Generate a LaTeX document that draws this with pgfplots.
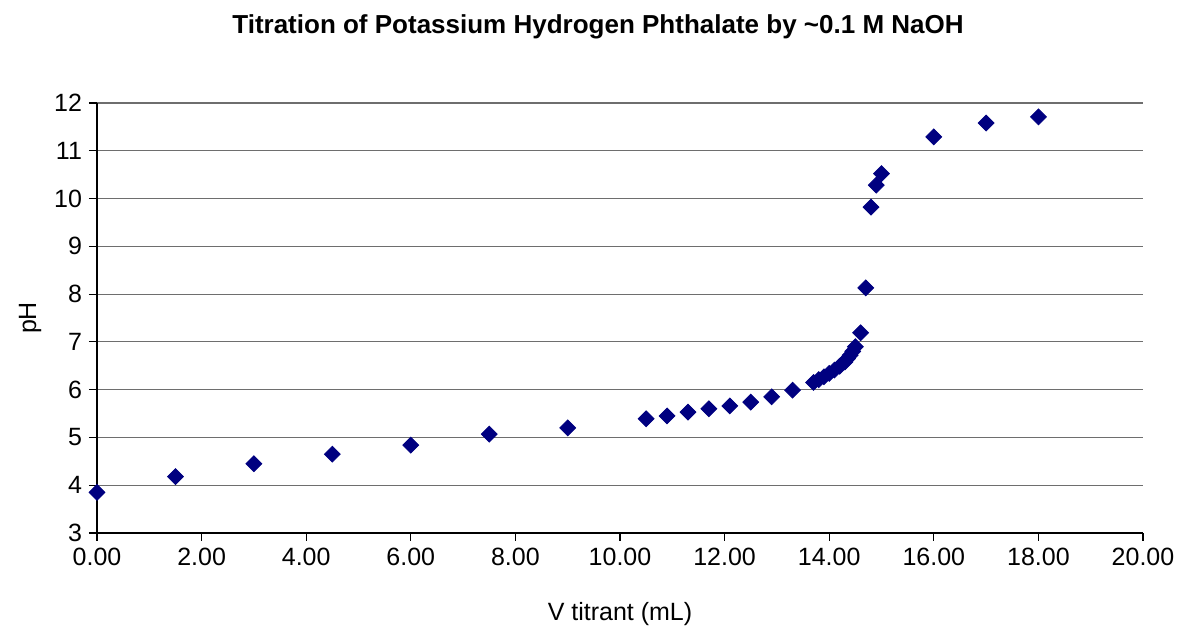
\documentclass[border=0pt]{standalone}
\usepackage{pgfplots}
\pgfplotsset{compat=1.18}
\usepackage{fontspec}
\setmainfont{Liberation Sans}
\definecolor{navy}{RGB}{0,0,128}
\definecolor{gridgray}{RGB}{110,110,110}
\begin{document}
\begin{tikzpicture}[x=1pt,y=1pt]
\useasboundingbox (0,0) rectangle (589.5,315);
\begin{axis}[
  at={(48.5pt,48.5pt)}, anchor=south west,
  scale only axis, width=523pt, height=215pt,
  xmin=0, xmax=20, ymin=3, ymax=12,
  xtick={0,2,...,20}, ytick={3,4,...,12},
  axis lines*=left,
  axis line style={black, line width=0.6pt},
  ymajorgrids, grid style={gridgray, line width=0.6pt},
  tick align=outside, major tick length=4pt,
  tick style={black, line width=0.6pt},
  /pgf/number format/assume math mode=true,
  ticklabel style={font=\fontsize{12.5}{14}\selectfont},
  xticklabel style={/pgf/number format/.cd, fixed, fixed zerofill, precision=2},
  clip=false,
]
\addplot[only marks, mark=square*, mark size=2.8pt, mark options={rotate=45, fill=navy, draw=navy}] coordinates {
(0,3.85) (1.5,4.18) (3.0,4.45) (4.5,4.65) (6.0,4.84) (7.5,5.07) (9.0,5.20)
(10.5,5.39) (10.9,5.45) (11.3,5.53) (11.7,5.60) (12.1,5.66) (12.5,5.74) (12.9,5.85) (13.3,5.99)
(13.7,6.15) (13.8,6.21) (13.9,6.27) (14.0,6.34) (14.1,6.41) (14.2,6.49) (14.3,6.58) (14.35,6.65) (14.4,6.72) (14.45,6.80) (14.5,6.90)
(14.6,7.19) (14.7,8.13) (14.8,9.82) (14.9,10.28) (15.0,10.52)
(16.0,11.29) (17.0,11.58) (18.0,11.71)
};
\end{axis}
\node[font=\bfseries\fontsize{13}{15}\selectfont] at (299,301.5) {Titration of Potassium Hydrogen Phthalate by \textasciitilde0.1 M NaOH};
\node[font=\fontsize{12.5}{14}\selectfont] at (310,8) {V titrant (mL)};
\node[font=\fontsize{12.5}{14}\selectfont, rotate=90] at (15,156) {pH};
\end{tikzpicture}
\end{document}
